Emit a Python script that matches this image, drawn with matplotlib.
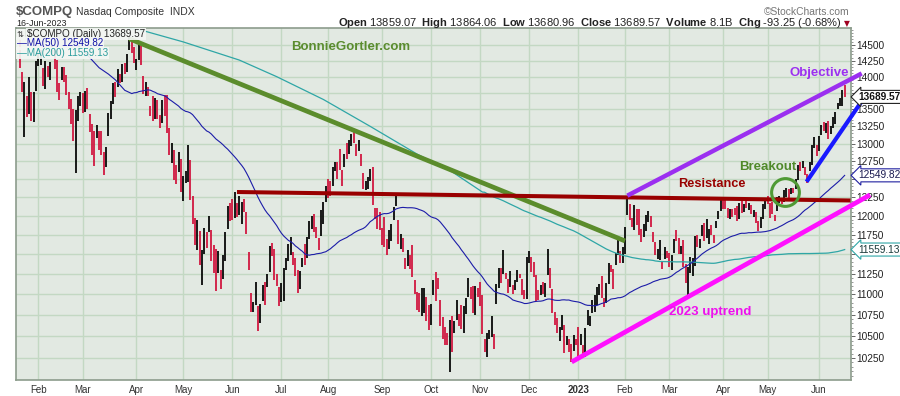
import numpy as np
import pandas as pd
import matplotlib
matplotlib.use('Agg')
import matplotlib.pyplot as plt
from matplotlib.ticker import FixedLocator

plt.rcParams['font.family'] = ['Liberation Sans', 'DejaVu Sans']
plt.rcParams['mathtext.fontset'] = 'custom'
plt.rcParams['mathtext.rm'] = 'Liberation Sans'
plt.rcParams['mathtext.bf'] = 'Liberation Sans:bold'

# trading calendar (NYSE holidays in the window)
holidays = ['2022-02-21', '2022-04-15', '2022-05-30', '2022-06-20', '2022-07-04',
            '2022-09-05', '2022-11-24', '2022-12-26', '2023-01-02', '2023-01-16',
            '2023-02-20', '2023-04-07', '2023-05-29']
dates = pd.bdate_range('2022-01-20', '2023-06-16', freq='C', holidays=holidays)

prev_close = 14340  # close of 19-Jan-2022

closes = [
    14154, 13768, 13855, 13539, 13542, 13352, 13770, 14240,  # Jan 22
    14346, 14417, 13878, 14098, 14015, 14194, 14490, 14186, 13791, 13790, 14139, 14124, 13717, 13548, 13382, 13037, 13473, 13694, 13751,  # Feb
    13532, 13752, 13537, 13313, 12830, 12796, 13255, 13130, 12843, 12581, 12949, 13437, 13615, 13894, 13839, 14109, 13922, 14191, 14169, 14354, 14620, 14443, 14220,  # Mar
    14261, 14532, 14204, 13888, 13897, 13711, 13411, 13372, 13644, 13351, 13332, 13619, 13453, 13174, 12839, 13004, 12490, 12488, 12872, 12335,  # Apr
    12536, 12564, 12965, 12318, 12145, 11623, 11738, 11364, 11371, 11805, 11663, 11985, 11418, 11389, 11355, 11535, 11265, 11435, 11741, 12131, 12081,  # May
    11995, 12317, 12013, 12061, 12176, 12087, 11755, 11341, 10809, 10829, 11100, 10646, 10798, 11070, 11053, 11232, 11608, 11525, 11182, 11178, 11029,  # Jun
    11128, 11322, 11362, 11621, 11635, 11373, 11265, 11248, 11252, 11452, 11360, 11713, 11898, 11998, 11835, 11783, 11563, 12032, 12163, 12391,  # Jul
    12369, 12349, 12668, 12721, 12657, 12645, 12493, 12855, 12779, 13047, 13128, 13103, 12938, 12966, 12705, 12381, 12381, 12431, 12640, 12142, 12018, 11884, 11816,  # Aug
    11785, 11631, 11545, 11792, 11862, 12112, 12266, 11634, 11720, 11552, 11448, 11535, 11425, 11220, 11066, 10868, 10802, 10829, 11052, 10737, 10576,  # Sep
    10815, 11176, 11148, 11073, 10652, 10542, 10426, 10417, 10649, 10321, 10676, 10773, 10681, 10615, 10860, 10953, 11199, 10971, 10792, 11102, 10988,  # Oct
    10890, 10525, 10343, 10475, 10565, 10617, 10353, 11114, 11323, 11196, 11358, 11184, 11144, 11146, 11025, 11175, 11285, 11226, 11049, 10984, 11468,  # Nov
    11482, 11462, 11240, 11015, 10959, 11082, 11005, 11144, 11256, 11171, 10811, 10705, 10546, 10547, 10709, 10476, 10498, 10354, 10214, 10479, 10466,  # Dec
    10386, 10459, 10305, 10569, 10636, 10743, 10932, 10932, 11079, 11095, 10958, 10852, 11140, 11364, 11335, 11313, 11512, 11622, 11394, 11585,  # Jan 23
    11816, 12201, 12007, 11888, 12114, 11910, 11789, 11718, 11892, 11960, 12070, 11855, 11787, 11492, 11507, 11591, 11395, 11467, 11456,  # Feb
    11380, 11463, 11689, 11676, 11530, 11576, 11338, 11139, 11188, 11428, 11434, 11717, 11631, 11675, 11860, 11670, 11788, 11824, 11768, 11716, 11926, 12013, 12222,  # Mar
    12190, 12126, 11997, 12088, 12085, 12032, 11930, 12167, 12124, 12158, 12154, 12158, 12060, 12073, 11990, 11799, 11854, 12143, 12227,  # Apr
    12213, 12081, 12025, 11967, 12236, 12256, 12180, 12307, 12329, 12285, 12366, 12344, 12501, 12688, 12658, 12720, 12560, 12484, 12699, 12976, 13017, 12935,  # May
    13101, 13241, 13230, 13276, 13104, 13239, 13259, 13461, 13573, 13626, 13782, 13689.57,  # Jun
]

highs = [
    14594, 14072, 13917, 13698, 14002, 13765, 13771, 14242,
    14379, 14417, 14143, 14246, 14167, 14224, 14498, 14428, 14266, 13898, 14146, 14156, 14029, 13768, 13664, 13511, 13487, 13697, 13769,
    13748, 13773, 13829, 13433, 13290, 13179, 13273, 13175, 13181, 12876, 12957, 13441, 13621, 13900, 13917, 14122, 14041, 14194, 14216, 14355, 14647, 14571, 14464,
    14283, 14535, 14500, 14004, 13916, 13845, 13557, 13705, 13680, 13647, 13412, 13650, 13716, 13711, 13225, 13007, 12903, 12695, 12882, 12777,
    12539, 12614, 12973, 12770, 12264, 11970, 11944, 11795, 11556, 11836, 11781, 11991, 11813, 11615, 11562, 11546, 11296, 11485, 11782, 12131, 12170,
    12225, 12320, 12167, 12270, 12186, 12224, 12051, 11525, 11012, 10901, 11152, 10853, 10884, 11110, 11150, 11246, 11608, 11640, 11565, 11252, 11090,
    11134, 11324, 11446, 11628, 11716, 11525, 11445, 11294, 11282, 11452, 11628, 11717, 11936, 11998, 12022, 11858, 11704, 12081, 12180, 12406,
    12493, 12471, 12668, 12731, 12734, 12921, 12627, 12855, 13010, 13048, 13141, 13181, 12999, 13055, 12847, 12589, 12476, 12533, 12640, 12672, 12097, 12108, 12048,
    11834, 11978, 11692, 11810, 11887, 12113, 12271, 11941, 11756, 11710, 11448, 11547, 11491, 11613, 11174, 11031, 11018, 11078, 11076, 10961, 10871,
    10886, 11176, 11273, 11202, 10928, 10731, 10614, 10533, 10688, 10742, 10676, 10929, 10768, 10875, 10860, 10957, 11199, 11087, 11097, 11103, 11080,
    11146, 10993, 10463, 10541, 10572, 10741, 10529, 11126, 11327, 11320, 11552, 11262, 11182, 11285, 11117, 11175, 11304, 11255, 11186, 11053, 11468,
    11536, 11468, 11398, 11236, 11058, 11108, 11149, 11144, 11571, 11330, 11064, 10790, 10715, 10612, 10747, 10634, 10502, 10473, 10409, 10520, 10467,
    10614, 10531, 10395, 10593, 10807, 10744, 10932, 10988, 11088, 11132, 11223, 10951, 11144, 11387, 11369, 11313, 11512, 11711, 11540, 11586,
    11849, 12270, 12153, 11970, 12141, 12085, 12085, 11821, 11892, 12011, 12070, 11998, 11789, 11655, 11567, 11681, 11411, 11587, 11534,
    11514, 11484, 11690, 11814, 11712, 11605, 11680, 11374, 11341, 11462, 11450, 11734, 11744, 11690, 11877, 11908, 11956, 11830, 11880, 11741, 11927, 12068, 12227,
    12226, 12227, 12102, 12090, 12088, 12102, 12127, 12169, 12203, 12161, 12244, 12165, 12148, 12074, 12051, 11930, 11978, 12153, 12227,
    12263, 12167, 12186, 12014, 12256, 12263, 12226, 12342, 12371, 12356, 12380, 12370, 12504, 12700, 12731, 12751, 12672, 12567, 12734, 12983, 13099, 12973,
    13114, 13265, 13310, 13293, 13327, 13248, 13385, 13461, 13594, 13672, 13800, 13864,
]

lows = [
    14131, 13768, 13094, 13382, 13429, 13322, 13320, 13781,
    14172, 14183, 13852, 13811, 13993, 13956, 14343, 14115, 13760, 13642, 13950, 13919, 13717, 13500, 13289, 13037, 12587, 13336, 13551,
    13454, 13460, 13502, 13173, 12829, 12674, 13074, 12907, 12836, 12555, 12663, 13111, 13364, 13582, 13686, 13843, 13901, 13924, 14046, 14074, 14426, 14376, 14210,
    14108, 14256, 14180, 13737, 13704, 13700, 13403, 13324, 13362, 13351, 13220, 13303, 13403, 13151, 12834, 12727, 12490, 12428, 12591, 12326,
    12202, 12440, 12455, 12213, 11885, 11623, 11547, 11363, 11108, 11499, 11574, 11791, 11414, 11264, 11036, 11258, 11068, 11188, 11407, 11828, 11935,
    11946, 11973, 11988, 12008, 11896, 12056, 11755, 11301, 10781, 10789, 10865, 10565, 10660, 10923, 10873, 11089, 11274, 11478, 11178, 11100, 10854,
    10904, 10920, 11300, 11408, 11491, 11363, 11221, 11019, 11068, 11332, 11359, 11451, 11700, 11820, 11786, 11704, 11558, 11739, 11896, 12180,
    12241, 12267, 12405, 12608, 12503, 12628, 12407, 12670, 12773, 12855, 12960, 13003, 12817, 12888, 12683, 12356, 12343, 12361, 12466, 12141, 11951, 11828, 11813,
    11616, 11596, 11491, 11567, 11675, 11938, 12137, 11633, 11562, 11527, 11314, 11348, 11312, 11215, 11000, 10815, 10782, 10736, 10771, 10675, 10575,
    10634, 10988, 10918, 11062, 10622, 10472, 10393, 10398, 10089, 10317, 10533, 10693, 10618, 10588, 10535, 10766, 10965, 10942, 10773, 10753, 10972,
    10860, 10524, 10319, 10262, 10465, 10495, 10353, 10881, 11081, 11144, 11247, 11183, 11014, 11083, 11005, 11053, 11151, 11201, 10997, 10943, 10939,
    11387, 11279, 11213, 10920, 10933, 10989, 11000, 10962, 11233, 11074, 10777, 10633, 10541, 10440, 10571, 10307, 10393, 10313, 10207, 10330, 10393,
    10265, 10394, 10265, 10263, 10631, 10624, 10777, 10785, 10870, 10989, 10950, 10842, 10898, 11130, 11275, 11063, 11360, 11491, 11391, 11394,
    11501, 12011, 11939, 11858, 11816, 11876, 11743, 11661, 11726, 11793, 11912, 11854, 11652, 11491, 11444, 11422, 11307, 11435, 11451,
    11333, 11299, 11510, 11663, 11503, 11500, 11332, 11138, 10982, 11260, 11225, 11348, 11589, 11573, 11731, 11668, 11709, 11634, 11747, 11640, 11842, 11952, 12060,
    12095, 12088, 11972, 11962, 11986, 12008, 11926, 11959, 12035, 12056, 12109, 12074, 12022, 11979, 11910, 11799, 11834, 11962, 12089,
    12157, 11971, 12019, 11925, 12065, 12173, 12162, 12191, 12256, 12222, 12292, 12305, 12364, 12484, 12611, 12649, 12560, 12446, 12611, 12692, 12939, 12823,
    12890, 13130, 13187, 13151, 13070, 13131, 13221, 13281, 13513, 13552, 13554, 13681,
]

# moving averages before enough bars exist in the window
ma50_lead_idx = [0, 10, 20, 26, 31, 34, 38, 41, 45, 48]
ma50_lead_val = [15250, 14950, 14650, 14460, 14260, 14140, 14040, 13950, 13790, 13740]
ma200_lead_idx = [0, 30, 54, 70, 94, 110, 130, 150, 170, 185, 198]
ma200_lead_val = [15100, 14900, 14720, 14550, 14260, 14000, 13650, 13250, 12850, 12600, 12320]

y_ticks = list(range(10250, 14501, 250))
hidden_ticks = [13750, 12500, 11500]  # covered by the price tags

n = len(closes)
assert n == len(dates) == len(highs) == len(lows)
x = np.arange(n)
c = np.array(closes, dtype=float)
prev = np.concatenate([[prev_close], c[:-1]])
colors = np.where(c >= prev, '#000000', '#d0103a')

s = pd.Series(c)
ma50 = s.rolling(50).mean().values
ma200 = s.rolling(200).mean().values
ma50_x = ma50_lead_idx + list(range(49, n))
ma50_y = ma50_lead_val + list(ma50[49:])
ma200_x = ma200_lead_idx + list(range(199, n))
ma200_y = ma200_lead_val + list(ma200[199:])

fig = plt.figure(figsize=(9, 3.96), dpi=100)
ax = fig.add_axes([16 / 900, 16 / 396, 834.5 / 900, 351.7 / 396])
ax.set_facecolor('#e2e9e2')
ax.set_yscale('log')
ax.set_ylim(10003, 14771)
ax.set_xlim(-1.54, 355.5)

# grid
month_idx = [i for i in range(1, n) if dates[i].month != dates[i - 1].month]
month_lab = ['2023' if dates[i].month == 1 else dates[i].strftime('%b') for i in month_idx]
for i in month_idx:
    ax.axvline(i, color='#c3d8c3', lw=1.0, zorder=0.5)
for v in y_ticks:
    ax.axhline(v, color='#c3d8c3', lw=1.0, zorder=0.5)

ax.vlines(x, lows, highs, colors=colors, lw=1.25, zorder=2)
ax.plot(ma200_x, ma200_y, color='#2ea6a6', lw=0.9, zorder=3)
ax.plot(ma50_x, ma50_y, color='#1c1ca8', lw=0.8, zorder=3)

# chartist annotations
ax.plot([47, 259], [14600, 11670], color='#5b8c2c', lw=3.4, solid_capstyle='butt', zorder=4)
ax.plot([93, 355.5], [12320, 12205], color='#990000', lw=2.9, solid_capstyle='butt', zorder=4)
ax.plot([260, 360.3], [12270, 14050], color='#9b2ff0', lw=3.2, solid_capstyle='butt', zorder=4, clip_on=False)
ax.plot([336.7, 363.1], [12461, 13769], color='#1a1aff', lw=3.0, solid_capstyle='butt', zorder=4, clip_on=False)
ax.plot([236.2, 363.9], [10205, 12281], color='#ff10ff', lw=3.4, solid_capstyle='butt', zorder=4, clip_on=False)
ax.plot([327.5], [12320], marker='o', ms=20, mfc='none', mec='#4f9a35', mew=2.2, zorder=5)

ax.text(141.8, 14468, 'BonnieGortler.com', color='#5a8c2e', fontsize=9.5, weight='bold', ha='center', va='center', zorder=6)
ax.text(342, 14054, 'Objective', color='#9b2ff0', fontsize=9.5, weight='bold', ha='center', va='center', zorder=6)
ax.text(296.4, 12431, 'Resistance', color='#990000', fontsize=9.2, weight='bold', ha='center', va='center', zorder=6)
ax.text(320, 12668, 'Breakout', color='#4f8a2a', fontsize=9.5, weight='bold', ha='center', va='center', zorder=6)
ax.text(295.4, 10790, '2023 uptrend', color='#ee10ee', fontsize=9.5, weight='bold', ha='center', va='center', zorder=6)

# axes styling
for sp in ax.spines.values():
    sp.set_color('#8c9c8c')
    sp.set_linewidth(1.2)
ax.yaxis.tick_right()
ax.yaxis.set_major_locator(FixedLocator(y_ticks))
ax.yaxis.set_minor_locator(FixedLocator(list(range(10050, 14751, 50))))
ax.set_yticklabels(['' if v in hidden_ticks else str(v) for v in y_ticks])
ax.yaxis.set_minor_formatter(plt.NullFormatter())
ax.tick_params(axis='y', which='major', length=3, width=0.7, color='#666', pad=1, labelsize=7.3, labelcolor='#222')
ax.tick_params(axis='y', which='minor', length=1.5, width=0.6, color='#888')
ax.set_xticks(month_idx)
ax.set_xticklabels(month_lab)
ax.tick_params(axis='x', length=0, pad=3.5, labelsize=7, labelcolor='#333')
for t in ax.get_xticklabels():
    if t.get_text() == '2023':
        t.set_fontweight('bold')

# price tags on the right axis
tr = ax.get_yaxis_transform()
ax.text(1.009, 13689.57, '13689.57', transform=tr, fontsize=7.3, weight='bold', color='#111',
        ha='left', va='center', zorder=7, clip_on=False,
        bbox=dict(boxstyle='larrow,pad=0.15', fc='white', ec='#222', lw=0.8))
ax.text(1.009, 12549.82, '12549.82', transform=tr, fontsize=7.3, color='#1a1a50',
        ha='left', va='center', zorder=7, clip_on=False,
        bbox=dict(boxstyle='larrow,pad=0.15', fc='white', ec='#2020a0', lw=0.8))
ax.text(1.009, 11559.13, '11559.13', transform=tr, fontsize=7.3, color='#1a3a3a',
        ha='left', va='center', zorder=7, clip_on=False,
        bbox=dict(boxstyle='larrow,pad=0.15', fc='white', ec='#2ea6a6', lw=0.8))

# inline legend
lb = dict(boxstyle='square,pad=0.12', fc='#f4f7f4', ec='none', alpha=0.92)
fig.text(17 / 900, 1 - 37 / 396, '\u21c5', fontsize=6, color='#333', va='baseline',
         family=['DejaVu Sans'], bbox=lb)
fig.text(27 / 900, 1 - 37 / 396, '$COMPQ (Daily) 13689.57', fontsize=7.1, color='#222', va='baseline', bbox=lb)
fig.text(17 / 900, 1 - 46.5 / 396, '\u2014MA(50) 12549.82', fontsize=7.1, color='#1010a8', va='baseline', bbox=lb)
fig.text(17 / 900, 1 - 56 / 396, '\u2014MA(200) 11559.13', fontsize=7.1, color='#2a9c9c', va='baseline', bbox=lb)

# header
fig.text(16 / 900, 1 - 15 / 396, '$COMPQ', fontsize=9.5, weight='bold', color='#555', va='baseline')
fig.text(76 / 900, 1 - 15 / 396, 'Nasdaq Composite  INDX', fontsize=7.5, color='#333', va='baseline')
fig.text(16 / 900, 1 - 25.5 / 396, '16-Jun-2023', fontsize=6.4, color='#222', va='baseline')
fig.text(842 / 900, 1 - 26 / 396,
         r'$\mathbf{Open}$ 13859.07  $\mathbf{High}$ 13864.06  $\mathbf{Low}$ 13680.96  '
         r'$\mathbf{Close}$ 13689.57  $\mathbf{Volume}$ 8.1B  $\mathbf{Chg}$ -93.25 (-0.68%)',
         fontsize=8.0, color='#222', ha='right', va='baseline')
fig.text(847 / 900, 1 - 26 / 396, '\u25bc', fontsize=5.5, color='#a00020', ha='center', va='baseline',
         family=['DejaVu Sans'])
fig.text(850 / 900, 1 - 15 / 396, '\u00a9StockCharts.com', fontsize=7.4, color='#777', ha='right', va='baseline')

fig.savefig('out.png', dpi=100)
